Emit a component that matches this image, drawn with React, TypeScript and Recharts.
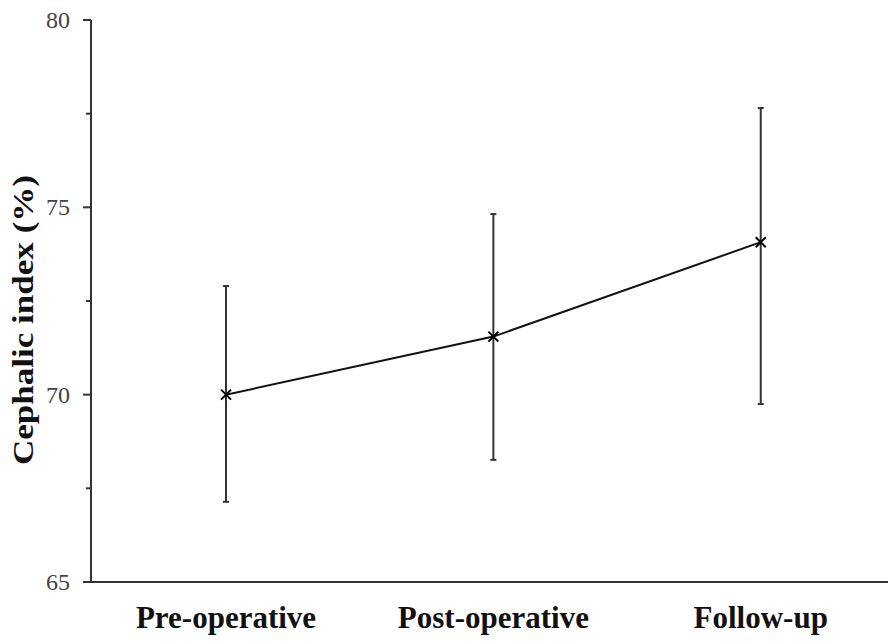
import React from "react";
import { ComposedChart, Line, XAxis, YAxis, ErrorBar } from "recharts";

const categories = ["Pre-operative", "Post-operative", "Follow-up"];
const meanValues = [70.0, 71.55, 74.07];
const upperValues = [72.9, 74.82, 77.65];
const lowerValues = [67.14, 68.26, 69.75];
const yTicks = [65, 67.5, 70, 72.5, 75, 77.5, 80];

const data = categories.map((name, i) => ({
  idx: i,
  name,
  mean: meanValues[i],
  err: [meanValues[i] - lowerValues[i], upperValues[i] - meanValues[i]],
}));

const XDot = (props: any) => {
  const { cx, cy } = props;
  if (cx == null || cy == null) return null;
  const s = 5;
  return (
    <g stroke="#000" strokeWidth={2}>
      <line x1={cx - s} y1={cy - s} x2={cx + s} y2={cy + s} />
      <line x1={cx - s} y1={cy + s} x2={cx + s} y2={cy - s} />
    </g>
  );
};

const YTick = (props: any) => {
  const { x, y, payload } = props;
  const v = payload.value;
  const major = v % 5 === 0;
  return (
    <g>
      <line x1={x - (major ? 8 : 5)} y1={y} x2={x} y2={y} stroke="#333" strokeWidth={2} />
      {major && (
        <text
          x={x - 21}
          y={y + 8}
          textAnchor="end"
          fontFamily="'Liberation Serif', 'Times New Roman', serif"
          fontSize={24}
          fill="#444"
        >
          {v}
        </text>
      )}
    </g>
  );
};

const XTick = (props: any) => {
  const { x, y, payload } = props;
  return (
    <text
      x={x}
      y={y + 46}
      textAnchor="middle"
      fontFamily="'Liberation Serif', 'Times New Roman', serif"
      fontWeight="bold"
      fontSize={31}
      fill="#111"
    >
      {categories[payload.value]}
    </text>
  );
};

const YLabel = () => (
  <text
    x={0}
    y={0}
    transform="translate(33, 320) rotate(-90)"
    textAnchor="middle"
    fontFamily="'Liberation Serif', 'Times New Roman', serif"
    fontWeight="bold"
    fontSize={29}
    fill="#111"
    textLength={290}
    lengthAdjust="spacingAndGlyphs"
  >
    Cephalic index (%)
  </text>
);

export default function App() {
  return (
    <div style={{ position: "absolute", left: 0, top: 0, width: 888, height: 644, background: "#fff" }}>
      <ComposedChart
        width={888}
        height={644}
        data={data}
        margin={{ top: 20, right: 0, bottom: 0, left: 0 }}
      >
        <XAxis
          dataKey="idx"
          type="number"
          domain={[-0.505, 2.476]}
          ticks={[0, 1, 2]}
          allowDataOverflow
          height={62}
          tickSize={0}
          tickMargin={0}
          tickLine={false}
          tick={<XTick />}
          axisLine={{ stroke: "#333", strokeWidth: 2 }}
        />
        <YAxis
          type="number"
          domain={[65, 80]}
          ticks={yTicks}
          allowDataOverflow
          width={91}
          tickSize={0}
          tickMargin={0}
          tickLine={false}
          tick={<YTick />}
          interval={0}
          axisLine={{ stroke: "#333", strokeWidth: 2 }}
          label={{ content: <YLabel /> }}
        />
        <Line
          type="linear"
          dataKey="mean"
          stroke="#111"
          strokeWidth={2}
          dot={<XDot />}
          activeDot={false}
          isAnimationActive={false}
        >
          <ErrorBar dataKey="err" width={3} stroke="#333" strokeWidth={2} direction="y" isAnimationActive={false} />
        </Line>
      </ComposedChart>
    </div>
  );
}
